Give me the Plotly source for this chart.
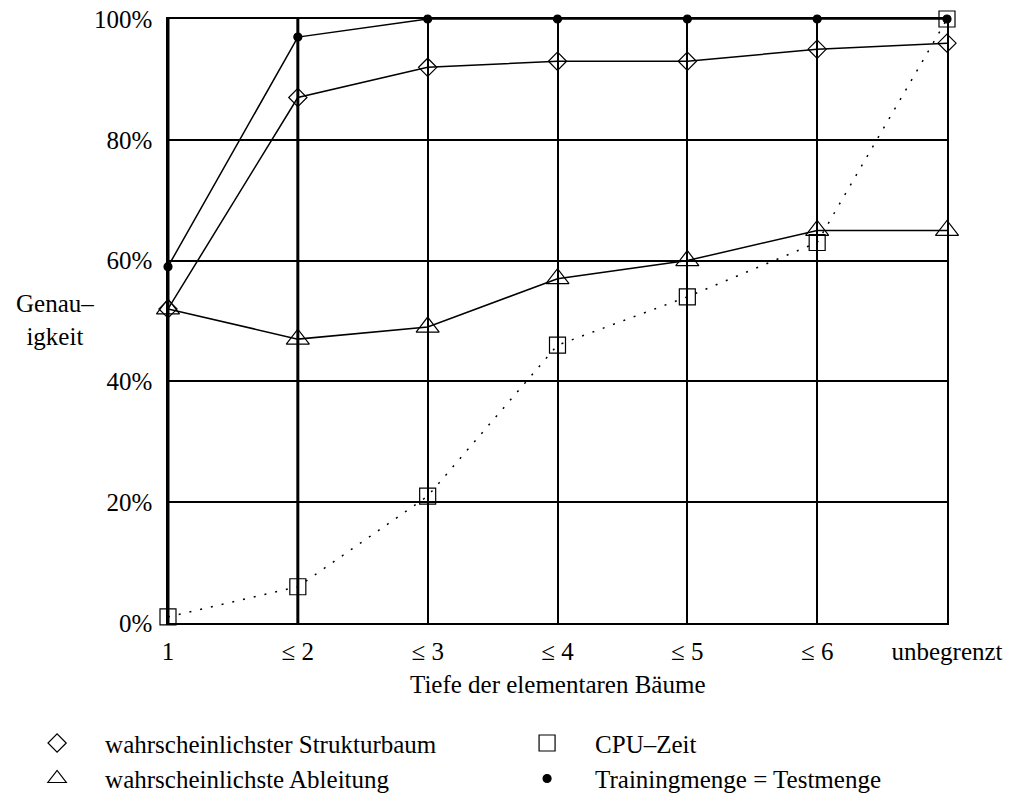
import plotly.graph_objects as go

categories = ["1", "≤ 2", "≤ 3", "≤ 4", "≤ 5", "≤ 6", "unbegrenzt"]
strukturbaum = [52, 87, 92, 93, 93, 95, 96]
ableitung = [52, 47, 49, 57, 60, 65, 65]
cpu_zeit = [1, 6, 21, 46, 54, 63, 100]
training_test = [59, 97, 100, 100, 100, 100, 100]
y_ticks = [0, 20, 40, 60, 80, 100]
y_ticktext = [f"{v}%" for v in y_ticks]

FONT = "Liberation Serif"
FS = 25
xs = list(range(len(categories)))

fig = go.Figure()

def add(name, y, symbol, size, dash, legend):
    fig.add_trace(go.Scatter(
        x=xs, y=y, mode="lines+markers", showlegend=False,
        line=dict(color="black", width=1.5, dash=dash),
        marker=dict(symbol=symbol, size=size, color="black",
                    line=dict(color="black", width=1.2)),
        cliponaxis=False,
    ))
    fig.add_trace(go.Scatter(
        x=[None], y=[None], mode="markers", name=name, legend=legend,
        marker=dict(symbol=symbol, size=size, color="black",
                    line=dict(color="black", width=1.2)),
    ))

add("wahrscheinlichster Strukturbaum", strukturbaum, "diamond-open", 14, "solid", "legend")
add("wahrscheinlichste Ableitung", ableitung, "triangle-up-open", 20, "solid", "legend")
add("CPU–Zeit", cpu_zeit, "square-open", 16, "2px,9px", "legend2")
add("Trainingmenge = Testmenge", training_test, "circle", 8, "solid", "legend2")

# thicker vertical lines at the first two categories
for i in (0, 1):
    fig.add_shape(type="line", xref="x", yref="y", x0=xs[i], x1=xs[i],
                  y0=0, y1=100, line=dict(color="black", width=3), layer="below")

fig.add_annotation(text="Genau–<br>igkeit", xref="paper", yref="paper",
                   x=-0.145, y=(623 - 320) / 604, showarrow=False,
                   font=dict(family=FONT, size=FS, color="black"),
                   xanchor="center", yanchor="middle", align="center")
fig.add_annotation(text="Tiefe der elementaren Bäume", xref="paper", yref="paper",
                   x=0.5, y=-(684 - 623) / 604, showarrow=False,
                   font=dict(family=FONT, size=FS, color="black"),
                   xanchor="center", yanchor="middle")

legend_common = dict(orientation="v", xanchor="left", yanchor="top",
                     itemwidth=86, font=dict(family=FONT, size=FS, color="black"),
                     bgcolor="rgba(0,0,0,0)", traceorder="normal")

fig.update_layout(
    width=1011, height=804,
    margin=dict(l=168, r=64, t=19, b=181, autoexpand=False),
    paper_bgcolor="white", plot_bgcolor="white",
    font=dict(family=FONT, size=FS, color="black"),
    xaxis=dict(range=[0, 6], tickvals=xs, ticktext=categories,
               showgrid=True, gridcolor="black", gridwidth=1.5,
               showline=True, linecolor="black", linewidth=1.5, mirror=True,
               zeroline=False, ticks="", ticklabelstandoff=5,
               tickfont=dict(family=FONT, size=FS, color="black")),
    yaxis=dict(range=[0, 100], tickvals=y_ticks, ticktext=y_ticktext,
               showgrid=True, gridcolor="black", gridwidth=1.5,
               showline=True, linecolor="black", linewidth=1.5, mirror=True,
               zeroline=False, ticks="", ticklabelstandoff=9,
               tickfont=dict(family=FONT, size=FS, color="black")),
    legend=dict(x=-0.204, y=-0.161, **legend_common),
    legend2=dict(x=0.425, y=-0.161, **legend_common),
)

fig.write_html("out.html")
